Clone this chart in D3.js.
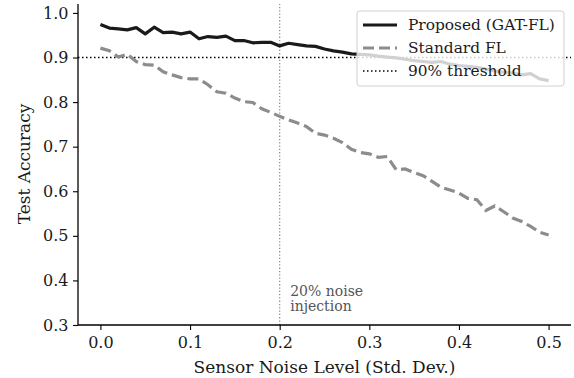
<!DOCTYPE html>
<html>
<head>
<meta charset="utf-8">
<script src="https://cdn.jsdelivr.net/npm/d3@7"></script>
<style>
  body { margin: 0; background: #fff; }
  svg { display: block; font-family: "DejaVu Serif", serif; }
</style>
</head>
<body>
<div id="chart"></div>
<script>
// noise levels 0.00 .. 0.50
const noiseLevels = d3.range(51).map(i => i / 100);

const proposed = [
  0.974, 0.966, 0.964, 0.962, 0.967, 0.953, 0.968, 0.956, 0.957, 0.953,
  0.957, 0.942, 0.947, 0.945, 0.948, 0.938, 0.938, 0.933, 0.934, 0.934,
  0.926, 0.932, 0.929, 0.926, 0.925, 0.919, 0.915, 0.912, 0.908, 0.907,
  0.906, 0.903, 0.901, 0.899, 0.896, 0.893, 0.891, 0.889, 0.891, 0.885,
  0.882, 0.880, 0.878, 0.874, 0.870, 0.867, 0.865, 0.861, 0.864, 0.852,
  0.848
];

const standardFL = [
  0.921, 0.915, 0.901, 0.907, 0.891, 0.884, 0.883, 0.868, 0.861, 0.855,
  0.852, 0.852, 0.839, 0.823, 0.820, 0.809, 0.801, 0.799, 0.785, 0.777,
  0.768, 0.760, 0.753, 0.745, 0.730, 0.726, 0.719, 0.709, 0.694, 0.687,
  0.684, 0.676, 0.678, 0.648, 0.650, 0.642, 0.635, 0.622, 0.609, 0.603,
  0.596, 0.584, 0.581, 0.557, 0.567, 0.554, 0.540, 0.532, 0.521, 0.508,
  0.502
];

const xTicks = [0.0, 0.1, 0.2, 0.3, 0.4, 0.5];
const yTicks = [0.3, 0.4, 0.5, 0.6, 0.7, 0.8, 0.9, 1.0];
const threshold = 0.9;
const noiseMark = 0.2;

const width = 574, height = 378;
const margin = { top: 4, right: 3, bottom: 53, left: 78 };

const svg = d3.select('#chart')
  .append('svg')
  .attr('width', width)
  .attr('height', height);

const xScale = d3.scaleLinear()
  .domain([-0.025, 0.525])
  .range([margin.left, width - margin.right]);

const yScale = d3.scaleLinear()
  .domain([0.3, 1.02])
  .range([height - margin.bottom, margin.top]);

// reference lines
svg.append('line')
  .attr('x1', xScale(noiseMark)).attr('x2', xScale(noiseMark))
  .attr('y1', yScale(0.3)).attr('y2', yScale(1.02))
  .attr('stroke', '#888')
  .attr('stroke-width', 1.2)
  .attr('stroke-dasharray', '1.3,2');

svg.append('line')
  .attr('x1', margin.left).attr('x2', width - margin.right)
  .attr('y1', yScale(threshold)).attr('y2', yScale(threshold))
  .attr('stroke', '#000')
  .attr('stroke-width', 1.5)
  .attr('stroke-dasharray', '1.5,2.5');

const line = d3.line()
  .x((d, i) => xScale(noiseLevels[i]))
  .y(d => yScale(d));

svg.append('path')
  .datum(standardFL)
  .attr('fill', 'none')
  .attr('stroke', '#8c8c8c')
  .attr('stroke-width', 3.2)
  .attr('stroke-dasharray', '11,5')
  .attr('d', line);

svg.append('path')
  .datum(proposed)
  .attr('fill', 'none')
  .attr('stroke', '#1a1a1a')
  .attr('stroke-width', 3.2)
  .attr('stroke-linejoin', 'round')
  .attr('d', line);

// annotation
svg.append('text')
  .attr('y', 296)
  .attr('fill', '#555')
  .style('font-size', '14px')
  .selectAll('tspan')
  .data(['20% noise', 'injection'])
  .join('tspan')
  .attr('x', xScale(0.205) + 6)
  .attr('dy', (d, i) => i === 0 ? 0 : 15)
  .text(d => d);

// axes
const xAxis = d3.axisBottom(xScale)
  .tickValues(xTicks)
  .tickSize(5)
  .tickFormat(d3.format('.1f'));

const yAxis = d3.axisLeft(yScale)
  .tickValues(yTicks)
  .tickSize(5)
  .tickFormat(d3.format('.1f'));

const gx = svg.append('g')
  .attr('transform', `translate(0,${height - margin.bottom})`)
  .call(xAxis);
gx.select('.domain').attr('d', `M${margin.left},0H${width - margin.right}`).attr('stroke-width', 1.3);

const gy = svg.append('g')
  .attr('transform', `translate(${margin.left},0)`)
  .call(yAxis);
gy.select('.domain').attr('d', `M0,${yScale(1.02)}V${yScale(0.3)}`).attr('stroke-width', 1.3);

svg.selectAll('.tick line').attr('stroke', '#000').attr('stroke-width', 1.1);
svg.selectAll('.tick text')
  .attr('fill', '#1a1a1a')
  .style('font-family', '"DejaVu Serif", serif')
  .style('font-size', '16px');
gx.selectAll('.tick text').attr('dy', '0.95em');
gy.selectAll('.tick text').attr('dx', '-0.1em');

svg.append('text')
  .attr('x', xScale(0.25))
  .attr('y', 373)
  .attr('text-anchor', 'middle')
  .attr('fill', '#1a1a1a')
  .style('font-size', '17px')
  .text('Sensor Noise Level (Std. Dev.)');

svg.append('text')
  .attr('transform', 'translate(30,164) rotate(-90)')
  .attr('text-anchor', 'middle')
  .attr('fill', '#1a1a1a')
  .style('font-size', '17px')
  .text('Test Accuracy');

// legend
const legendItems = [
  { label: 'Proposed (GAT-FL)', stroke: '#1a1a1a', dash: null, w: 3.2 },
  { label: 'Standard FL', stroke: '#8c8c8c', dash: '11,5', w: 3.2 },
  { label: '90% threshold', stroke: '#000', dash: '1.5,2.5', w: 1.5 }
];

const legend = svg.append('g').attr('transform', 'translate(357,11)');
legend.append('rect')
  .attr('width', 207).attr('height', 75)
  .attr('rx', 3)
  .attr('fill', 'rgba(255,255,255,0.8)')
  .attr('stroke', '#d0d0d0');

const rows = legend.selectAll('g.row')
  .data(legendItems)
  .join('g')
  .attr('class', 'row')
  .attr('transform', (d, i) => `translate(0,${14 + i * 23})`);

rows.append('line')
  .attr('x1', 6).attr('x2', 40)
  .attr('stroke', d => d.stroke)
  .attr('stroke-width', d => d.w)
  .attr('stroke-dasharray', d => d.dash);

rows.append('text')
  .attr('x', 51)
  .attr('dy', '0.35em')
  .attr('fill', '#1a1a1a')
  .style('font-size', '15.4px')
  .text(d => d.label);
</script>
</body>
</html>
